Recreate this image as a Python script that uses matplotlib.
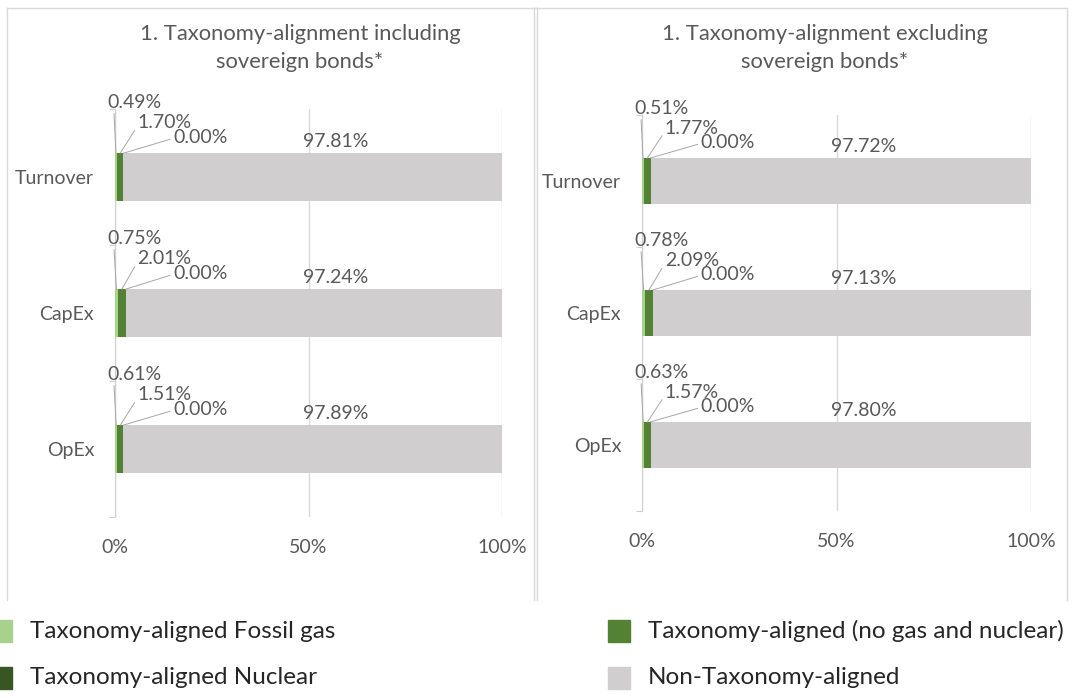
import matplotlib
matplotlib.use("Agg")
import matplotlib.pyplot as plt
from matplotlib.patches import Rectangle
from matplotlib.lines import Line2D

plt.rcParams['font.family'] = ['Lato', 'DejaVu Sans']

categories = ["Turnover", "CapEx", "OpEx"]
series_names = ["Taxonomy-aligned Fossil gas", "Taxonomy-aligned (no gas and nuclear)",
                "Taxonomy-aligned Nuclear", "Non-Taxonomy-aligned"]
colors = ["#A9D18E", "#548235", "#375623", "#D0CECE"]

# values in %, per category: fossil gas, no gas and nuclear, nuclear, non-aligned
incl_fossil = [0.49, 0.75, 0.61]
incl_nogas = [1.70, 2.01, 1.51]
incl_nuclear = [0.00, 0.00, 0.00]
incl_non = [97.81, 97.24, 97.89]

excl_fossil = [0.51, 0.78, 0.63]
excl_nogas = [1.77, 2.09, 1.57]
excl_nuclear = [0.00, 0.00, 0.00]
excl_non = [97.72, 97.13, 97.80]

titles = ["1. Taxonomy-alignment including\nsovereign bonds*",
          "1. Taxonomy-alignment excluding\nsovereign bonds*"]
xticks = [0, 50, 100]
xtick_labels = ["0%", "50%", "100%"]

W, H = 1080, 698
fig = plt.figure(figsize=(W / 100, H / 100), dpi=100)

def fx(px):
    return px / W

def fy(py):
    return 1 - py / H

# panel borders
border = "#D9D9D9"
for x0, x1 in [(7, 537), (534, 1067)]:
    fig.add_artist(Line2D([fx(x0), fx(x1)], [fy(8), fy(8)], color=border, lw=1))
    fig.add_artist(Line2D([fx(x0), fx(x0)], [fy(8), fy(600)], color=border, lw=1))
    fig.add_artist(Line2D([fx(x1), fx(x1)], [fy(8), fy(600)], color=border, lw=1))

panels = [
    dict(data=[incl_fossil, incl_nogas, incl_nuclear, incl_non], rect=(115, 502, 109, 517), title_x=300),
    dict(data=[excl_fossil, excl_nogas, excl_nuclear, excl_non], rect=(642, 1031, 115, 511), title_x=825),
]

bar_h = 0.35
lab_col = "#595959"
lead_col = "#A6A6A6"
# label positions (x in %, y offset in category units) for each segment
lab_pos = [(5.0, -0.55, (0.12, 0.1)), (12.8, -0.40, (0.0, 0.3)),
           (22.0, -0.29, (0.0, 0.45)), (57.0, -0.26, None)]

for k, p in enumerate(panels):
    x0, x1, y0, y1 = p["rect"]
    ax = fig.add_axes([fx(x0), fy(y1), fx(x1 - x0), (y1 - y0) / H])
    ypos = list(range(len(categories)))
    left = [0.0] * len(categories)
    for s, vals in enumerate(p["data"]):
        ax.barh(ypos, vals, left=left, height=bar_h, color=colors[s], zorder=3)
        for i, v in enumerate(vals):
            lx, ly, rel = lab_pos[s]
            xy = (left[i] + v / 2, i - bar_h / 2)
            if rel is None:
                ax.text(lx, i + ly, f"{v:.2f}%", ha="center", va="center",
                        fontsize=14, color=lab_col, zorder=4)
            else:
                ax.annotate(f"{v:.2f}%", xy=xy, xytext=(lx, i + ly), ha="center", va="center",
                            fontsize=14, color=lab_col, zorder=4, annotation_clip=False,
                            arrowprops=dict(arrowstyle="-", color=lead_col, lw=0.7,
                                            relpos=rel, shrinkA=0, shrinkB=0))
        left = [a + b for a, b in zip(left, vals)]

    ax.set_xlim(0, 100)
    ax.set_ylim(len(categories) - 0.5, -0.5)
    ax.set_xticks(xticks)
    ax.set_xticklabels(xtick_labels)
    ax.tick_params(axis="x", length=0, pad=16, labelsize=14, labelcolor="#595959")
    ax.set_yticks([-0.5, 0.5, 1.5, 2.5])
    ax.set_yticklabels([])
    ax.tick_params(axis="y", which="major", length=4, color="#D0D0D0", direction="out")
    ax.set_yticks(ypos, minor=True)
    ax.set_yticklabels(categories, minor=True)
    ax.tick_params(axis="y", which="minor", length=0, pad=15, labelsize=14, labelcolor="#595959")
    ax.grid(axis="x", color="#D9D9D9", lw=1, zorder=0)
    for sp in ["top", "right", "bottom"]:
        ax.spines[sp].set_visible(False)
    ax.spines["left"].set_color("#D0D0D0")
    ax.set_facecolor("none")

    fig.text(fx(p["title_x"]), fy(48), titles[k], ha="center", va="center",
             fontsize=15.8, color="#595959", linespacing=1.55)

# legend: (square left px, row centre px, series)
leg_items = [(-10, 631, 0), (608, 631, 1), (-10, 678, 2), (608, 678, 3)]
for lx, ly, s in leg_items:
    fig.add_artist(Rectangle((fx(lx), fy(ly + 11)), fx(22), 22 / H, color=colors[s],
                             transform=fig.transFigure))
    tx = 30 if lx < 0 else lx + 40
    fig.text(fx(tx), fy(ly), series_names[s], ha="left", va="center",
             fontsize=17.5, color="#262626")

fig.savefig("out.png", dpi=100)
